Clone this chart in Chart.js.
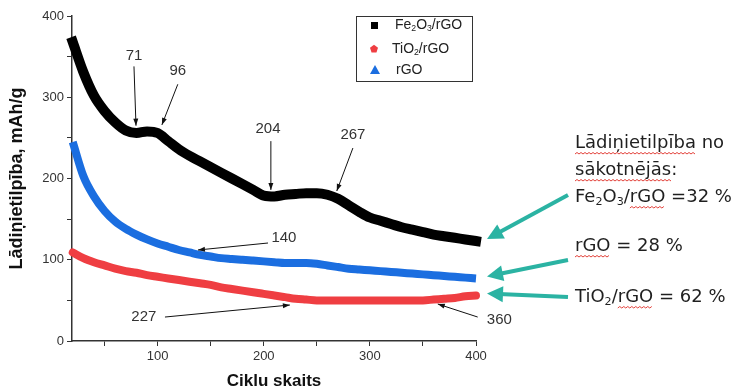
<!DOCTYPE html>
<html>
<head>
<meta charset="utf-8">
<script src="https://cdn.jsdelivr.net/npm/chart.js@4.4.0/dist/chart.umd.min.js"></script>
<style>
  html, body { margin: 0; padding: 0; background: #fff; }
</style>
</head>
<body>
<canvas id="chart" width="740" height="392"></canvas>
<script>
// cycle numbers and capacity (mAh/g)
const cycles = [20, 30, 40, 50, 60, 70, 80, 90, 100, 110, 120, 130, 140, 150, 160, 170, 180, 190, 200,
  210, 220, 230, 240, 250, 260, 270, 280, 290, 300, 310, 320, 330, 340, 350, 360, 370, 380, 390, 400];
const fe2o3 = [368, 331, 302, 283, 269, 259, 256, 258, 256, 246, 236, 228, 221, 214, 207, 200, 193, 186, 179,
  178, 180, 181, 182, 182, 180, 175, 167, 159, 152, 148, 144, 140, 137, 134, 131, 129, 127, 125, 123];
const rgo = [245, 203, 178, 160, 147, 138, 131, 125, 120, 116, 112, 109, 106, 104, 102, 101, 100, 99, 98,
  97, 96, 96, 96, 95, 93, 91, 89, 88, 87, 86, 85, 84, 83, 82, 81, 80, 79, 78, 77];
const tio2 = [109, 102, 97, 93, 89, 86, 84, 81, 79, 77, 75, 73, 71, 69, 66, 64, 62, 60, 58,
  56, 54, 52, 51, 50, 50, 50, 50, 50, 50, 50, 50, 50, 50, 50, 51, 52, 53, 55, 56];

const xTicks = [50, 100, 150, 200, 250, 300, 350, 400];
const yTicks = [0, 50, 100, 150, 200, 250, 300, 350, 400];

// numbered callouts: text spot and arrow, in (cycle, mAh/g)
const callouts = [
  { text: '71',  at: [77.7, 351],   from: [77.7, 338],   to: [79.6, 265] },
  { text: '96',  at: [119, 332],    from: [119, 316],    to: [104, 266] },
  { text: '204', at: [204, 261],    from: [206.7, 246],  to: [206.7, 186] },
  { text: '267', at: [284, 253.5],  from: [284, 237.5],  to: [268.8, 184.6] },
  { text: '140', at: [219, 127],    from: [204, 120.6],  to: [138, 112] },
  { text: '227', at: [87, 29.5],    from: [106.9, 29.5], to: [224.6, 44.3] },
  { text: '360', at: [422, 26],     from: [401.6, 29.5], to: [364, 45.5] }
];

const FONT = '"Liberation Sans", Arial, sans-serif';
const TXT = '"DejaVu Sans", Verdana, sans-serif';

function arrowHead(ctx, x0, y0, x1, y1, len, half) {
  const a = Math.atan2(y1 - y0, x1 - x0);
  ctx.beginPath();
  ctx.moveTo(x1, y1);
  ctx.lineTo(x1 - len * Math.cos(a) + half * Math.sin(a), y1 - len * Math.sin(a) - half * Math.cos(a));
  ctx.lineTo(x1 - len * Math.cos(a) - half * Math.sin(a), y1 - len * Math.sin(a) + half * Math.cos(a));
  ctx.closePath();
  ctx.fill();
}

// draws text pieces left to right; sub pieces are smaller and lowered
function richText(ctx, parts, x, y, size, family) {
  let cx = x;
  const spans = [];
  parts.forEach(p => {
    const s = p.sub ? size * 0.62 : size;
    ctx.font = s + 'px ' + family;
    ctx.fillText(p.t, cx, p.sub ? y + size * 0.28 : y);
    const w = ctx.measureText(p.t).width;
    if (p.wavy) spans.push([cx, cx + w]);
    cx += w;
  });
  return spans;
}

function wavy(ctx, x0, x1, y) {
  ctx.save();
  ctx.strokeStyle = '#e2403a';
  ctx.lineWidth = 1;
  ctx.beginPath();
  ctx.moveTo(x0, y);
  let up = true;
  for (let x = x0 + 2; x <= x1; x += 2) {
    ctx.lineTo(x, up ? y - 1.5 : y);
    up = !up;
  }
  ctx.stroke();
  ctx.restore();
}

const extras = {
  id: 'extras',
  afterDraw(chart) {
    const ctx = chart.ctx;
    const xs = chart.scales.x, ys = chart.scales.y;
    const px = v => xs.getPixelForValue(v);
    const py = v => ys.getPixelForValue(v);
    ctx.save();

    // callouts
    ctx.strokeStyle = '#111';
    ctx.lineWidth = 1;
    ctx.font = '15px ' + FONT;
    ctx.textAlign = 'center';
    ctx.textBaseline = 'middle';
    callouts.forEach(c => {
      ctx.fillStyle = '#333';
      ctx.fillText(c.text, px(c.at[0]), py(c.at[1]));
      const x0 = px(c.from[0]), y0 = py(c.from[1]), x1 = px(c.to[0]), y1 = py(c.to[1]);
      ctx.beginPath();
      ctx.moveTo(x0, y0);
      ctx.lineTo(x1, y1);
      ctx.stroke();
      ctx.fillStyle = '#111';
      arrowHead(ctx, x0, y0, x1, y1, 7, 2.5);
    });

    // legend box
    ctx.strokeStyle = '#333';
    ctx.lineWidth = 1;
    ctx.strokeRect(356.5, 16.5, 116, 65);
    ctx.textAlign = 'left';
    ctx.fillStyle = '#000';
    ctx.fillRect(371, 22, 7, 7);
    ctx.fillStyle = '#ef3e42';
    ctx.beginPath();
    for (let i = 0; i < 5; i++) {
      const a = -Math.PI / 2 + i * 2 * Math.PI / 5;
      ctx.lineTo(374 + 4.2 * Math.cos(a), 49 + 4.2 * Math.sin(a));
    }
    ctx.closePath();
    ctx.fill();
    ctx.fillStyle = '#1b6ee0';
    ctx.beginPath();
    ctx.moveTo(375, 65); ctx.lineTo(380, 74); ctx.lineTo(370, 74);
    ctx.closePath();
    ctx.fill();
    ctx.fillStyle = '#222';
    richText(ctx, [{ t: 'Fe' }, { t: '2', sub: true }, { t: 'O' }, { t: '3', sub: true }, { t: '/rGO' }], 395, 25, 14, FONT);
    richText(ctx, [{ t: 'TiO' }, { t: '2', sub: true }, { t: '/rGO' }], 392, 49, 14, FONT);
    richText(ctx, [{ t: 'rGO' }], 396, 70, 14, FONT);

    // teal arrows to the last points
    const tipX = px(400) + 11;
    const teal = '#2bb3a3';
    ctx.strokeStyle = teal;
    ctx.fillStyle = teal;
    ctx.lineWidth = 4;
    [[195, fe2o3], [260, rgo], [297, tio2]].forEach(([sy, arr]) => {
      const ty = py(arr[arr.length - 1]) - 2;
      const a = Math.atan2(ty - sy, tipX - 568);
      ctx.beginPath();
      ctx.moveTo(568, sy);
      ctx.lineTo(tipX - 12 * Math.cos(a), ty - 12 * Math.sin(a));
      ctx.stroke();
      arrowHead(ctx, 568, sy, tipX, ty, 16, 8);
    });

    // retention text on the right
    ctx.fillStyle = '#1f1f1f';
    ctx.textBaseline = 'middle';
    const size = 18;
    const lines = [
      [143, [{ t: 'Lādiņietilpība', wavy: true }, { t: ' no' }]],
      [170, [{ t: 'sākotnējās', wavy: true }, { t: ':' }]],
      [197, [{ t: 'Fe' }, { t: '2', sub: true }, { t: 'O' }, { t: '3', sub: true }, { t: '/' }, { t: 'rGO', wavy: true }, { t: ' =32 %' }]],
      [246, [{ t: 'rGO', wavy: true }, { t: ' = 28 %' }]],
      [297, [{ t: 'TiO' }, { t: '2', sub: true }, { t: '/' }, { t: 'rGO', wavy: true }, { t: ' = 62 %' }]]
    ];
    lines.forEach(([y, parts]) => {
      const spans = richText(ctx, parts, 575, y, size, TXT);
      spans.forEach(s => wavy(ctx, s[0], s[1], y + 11));
    });

    ctx.restore();
  }
};

const toPts = arr => arr.map((v, i) => ({ x: cycles[i], y: v }));

new Chart(document.getElementById('chart'), {
  type: 'line',
  data: {
    datasets: [
      { label: 'Fe2O3/rGO', data: toPts(fe2o3), borderColor: '#000', borderWidth: 10, borderCapStyle: 'square' },
      { label: 'TiO2/rGO', data: toPts(tio2), borderColor: '#ef3e42', borderWidth: 8, borderCapStyle: 'round' },
      { label: 'rGO', data: toPts(rgo), borderColor: '#1b6ee0', borderWidth: 8, borderCapStyle: 'butt' }
    ]
  },
  options: {
    responsive: false,
    animation: false,
    clip: false,
    elements: { point: { radius: 0 }, line: { cubicInterpolationMode: 'monotone' } },
    layout: { padding: { left: 0, right: 264, top: 16, bottom: 0 } },
    plugins: { legend: { display: false }, tooltip: { enabled: false } },
    scales: {
      x: {
        type: 'linear',
        min: 19.3,
        max: 400,
        afterBuildTicks: s => { s.ticks = xTicks.map(v => ({ value: v })); },
        afterFit: s => { s.height = 51; },
        grid: { drawOnChartArea: false, tickLength: 5, color: '#333' },
        border: { color: '#333', width: 1.5 },
        ticks: {
          color: '#333', font: { family: FONT, size: 13 }, padding: 3, maxRotation: 0,
          callback: v => (v % 100 === 0 ? v : '')
        },
        title: {
          display: true, text: 'Ciklu skaits', color: '#111',
          font: { family: FONT, size: 17, weight: 'bold' }, padding: { top: 2, bottom: 0 }
        }
      },
      y: {
        min: 0,
        max: 400,
        afterBuildTicks: s => { s.ticks = yTicks.map(v => ({ value: v })); },
        afterFit: s => { s.width = 72; },
        grid: { drawOnChartArea: false, tickLength: 5, color: '#333' },
        border: { color: '#333', width: 1.5 },
        ticks: {
          color: '#333', font: { family: FONT, size: 13 }, padding: 3,
          callback: v => (v % 100 === 0 ? v : '')
        },
        title: {
          display: true, text: 'Lādiņietilpība, mAh/g', color: '#111',
          font: { family: FONT, size: 18, weight: 'bold' }, padding: { top: 6, bottom: 0 }
        }
      }
    }
  },
  plugins: [extras]
});
</script>
</body>
</html>
